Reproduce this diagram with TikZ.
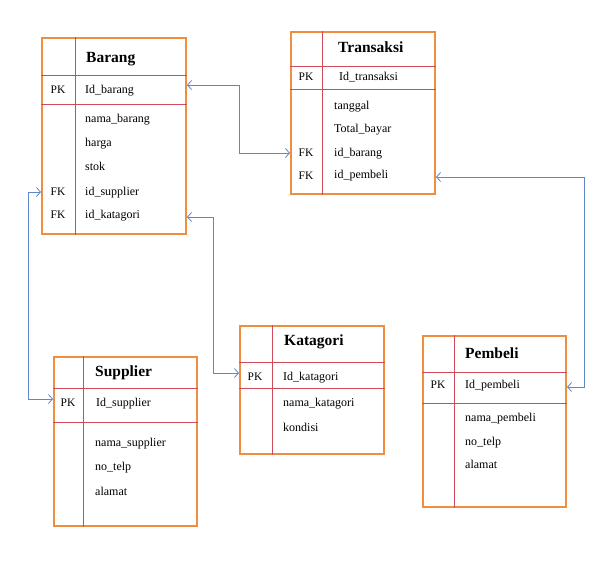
\documentclass[tikz,border=0pt]{standalone}
\usepackage{fontspec}
\setmainfont{Liberation Serif}
\usepackage{tikz}
\usetikzlibrary{arrows.meta}
\usetikzlibrary{calc}

\definecolor{tblorange}{RGB}{240,142,62}
\definecolor{tblred}{RGB}{205,75,90}
\definecolor{relblue}{RGB}{95,135,200}

\begin{document}
\begin{tikzpicture}[x=1pt,y=-1pt,
				tbl/.style={draw=tblorange,line width=2pt,anchor=north west,inner sep=0pt},
				sep/.style={draw=tblred,line width=0.8pt},
				title/.style={anchor=west,inner sep=0pt,font=\fontsize{15.5}{18}\selectfont\bfseries},
				fld/.style={anchor=west,inner sep=0pt,text height=8.5pt,text depth=2.5pt,font=\fontsize{12}{14}\selectfont},
				key/.style={inner sep=0pt,text height=8.5pt,text depth=2.5pt,font=\fontsize{11.5}{14}\selectfont},
				rel/.style={draw=relblue,line width=0.8pt,{Straight Barb[length=4pt,width=9pt]}-{Straight Barb[length=4pt,width=9pt]}}]
				\useasboundingbox (0,0) rectangle (601,560);
				
				% Barang
				\node[tbl,minimum width=144pt,minimum height=196pt] (barang) at (41,37) {};
				\draw[sep] ([xshift=34pt]barang.north west) -- ([xshift=34pt]barang.south west);
				\draw[sep] ([yshift=-38pt]barang.north west) -- ([yshift=-38pt]barang.north east);
				\draw[sep] ([yshift=-67pt]barang.north west) -- ([yshift=-67pt]barang.north east);
				\node[title] (b-title) at (86,59) {Barang};
				\node[key] (b-pk) at (58,90) {PK};
				\node[fld] (b-id) at (85,90) {Id\_barang};
				\node[fld] (b-nama) at (85,119) {nama\_barang};
				\node[fld] (b-harga) at (85,143) {harga};
				\node[fld] (b-stok) at (85,167) {stok};
				\node[key] (b-fk1) at (58,192) {FK};
				\node[fld] (b-ids) at (85,192) {id\_supplier};
				\node[key] (b-fk2) at (58,215) {FK};
				\node[fld] (b-idk) at (85,215) {id\_katagori};
				
				% Transaksi
				\node[tbl,minimum width=144pt,minimum height=162pt] (transaksi) at (290,31) {};
				\draw[sep] ([xshift=32pt]transaksi.north west) -- ([xshift=32pt]transaksi.south west);
				\draw[sep] ([yshift=-35pt]transaksi.north west) -- ([yshift=-35pt]transaksi.north east);
				\draw[sep] ([yshift=-58pt]transaksi.north west) -- ([yshift=-58pt]transaksi.north east);
				\node[title] (t-title) at (338,47) {Transaksi};
				\node[key] (t-pk) at (306,77) {PK};
				\node[fld] (t-id) at (339,77) {Id\_transaksi};
				\node[fld] (t-tgl) at (334,106) {tanggal};
				\node[fld] (t-total) at (334,129) {Total\_bayar};
				\node[key] (t-fk1) at (306,153) {FK};
				\node[fld] (t-idb) at (334,153) {id\_barang};
				\node[key] (t-fk2) at (306,176) {FK};
				\node[fld] (t-idp) at (334,175) {id\_pembeli};
				
				% Supplier
				\node[tbl,minimum width=143pt,minimum height=169pt] (supplier) at (53,356) {};
				\draw[sep] ([xshift=30pt]supplier.north west) -- ([xshift=30pt]supplier.south west);
				\draw[sep] ([yshift=-32pt]supplier.north west) -- ([yshift=-32pt]supplier.north east);
				\draw[sep] ([yshift=-66pt]supplier.north west) -- ([yshift=-66pt]supplier.north east);
				\node[title] (s-title) at (95,373) {Supplier};
				\node[key] (s-pk) at (68,403) {PK};
				\node[fld] (s-id) at (96,403) {Id\_supplier};
				\node[fld] (s-nama) at (95,443) {nama\_supplier};
				\node[fld] (s-telp) at (95,467) {no\_telp};
				\node[fld] (s-alamat) at (95,492) {alamat};
				
				% Katagori
				\node[tbl,minimum width=144pt,minimum height=128pt] (katagori) at (239,325) {};
				\draw[sep] ([xshift=33pt]katagori.north west) -- ([xshift=33pt]katagori.south west);
				\draw[sep] ([yshift=-37pt]katagori.north west) -- ([yshift=-37pt]katagori.north east);
				\draw[sep] ([yshift=-63pt]katagori.north west) -- ([yshift=-63pt]katagori.north east);
				\node[title] (k-title) at (284,342) {Katagori};
				\node[key] (k-pk) at (255,377) {PK};
				\node[fld] (k-id) at (283,377) {Id\_katagori};
				\node[fld] (k-nama) at (283,403) {nama\_katagori};
				\node[fld] (k-kondisi) at (283,428) {kondisi};
				
				% Pembeli
				\node[tbl,minimum width=143pt,minimum height=171pt] (pembeli) at (422,335) {};
				\draw[sep] ([xshift=32pt]pembeli.north west) -- ([xshift=32pt]pembeli.south west);
				\draw[sep] ([yshift=-37pt]pembeli.north west) -- ([yshift=-37pt]pembeli.north east);
				\draw[sep] ([yshift=-68pt]pembeli.north west) -- ([yshift=-68pt]pembeli.north east);
				\node[title] (p-title) at (465,353) {Pembeli};
				\node[key] (p-pk) at (438,385) {PK};
				\node[fld] (p-id) at (465,385) {Id\_pembeli};
				\node[fld] (p-nama) at (465,418) {nama\_pembeli};
				\node[fld] (p-telp) at (465,442) {no\_telp};
				\node[fld] (p-alamat) at (465,465) {alamat};
				
				% relasi
				\draw[rel] ($(b-id -| barang.east)+(0,-5)$) -- ++(52,0) |- (t-idb -| transaksi.west);
				\draw[rel] ($(t-idp -| transaksi.east)+(0,2)$) -- ++(148,0) |- ($(p-id -| pembeli.east)+(0,2)$);
				\draw[rel] (b-ids -| barang.west) -- ++(-13,0) |- ($(s-id -| supplier.west)+(0,-4)$);
				\draw[rel] ($(b-idk -| barang.east)+(0,2)$) -- ++(26,0) |- ($(k-id -| katagori.west)+(0,-4)$);
			\end{tikzpicture}
\end{document}
